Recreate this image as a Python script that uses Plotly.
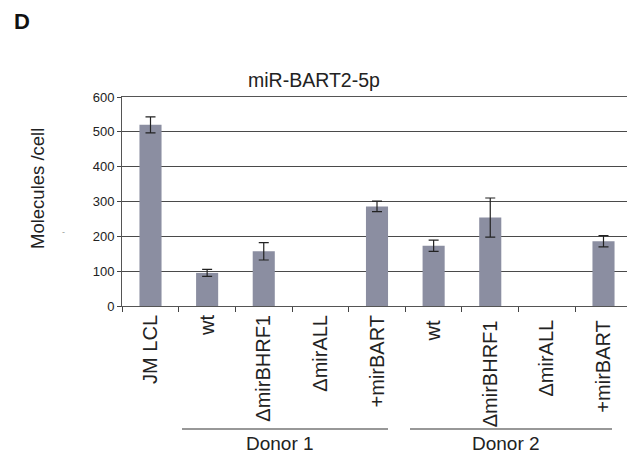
import plotly.graph_objects as go

categories = ["JM LCL", "wt", "\u0394mirBHRF1", "\u0394mirALL", "+mirBART",
              "wt ", "\u0394mirBHRF1 ", "\u0394mirALL ", "+mirBART "]
values = [520, 95, 157, 0, 286, 173, 254, 0, 186]
errors = [23, 10, 25, 0, 15, 16, 56, 0, 16]
y_ticks = [0, 100, 200, 300, 400, 500, 600]
groups = ["Donor 1", "Donor 2"]

# page has an 8px body margin; lay out in screen pixels and compensate
OFF = 8
SW, SH = 635, 457
W, H = SW - OFF, SH - OFF
L_S, R_S, T_S, B_S = 122, 632, 97, 306  # plot box in screen pixels
l, r, t, b = L_S - OFF, SW - R_S, T_S - OFF, SH - B_S
pw, ph = W - l - r, H - t - b


def px(x):
    return (x - OFF - l) / pw


def py(y):
    return (H - b - (y - OFF)) / ph


fig = go.Figure()
fig.add_trace(go.Bar(
    x=categories, y=values,
    marker=dict(color="#8b8ea1", line=dict(width=0)),
    width=0.39,
))
# error bars only where there is a measurable value
keep = [i for i, e in enumerate(errors) if e > 0]
fig.add_trace(go.Scatter(
    x=[categories[i] for i in keep], y=[values[i] for i in keep],
    mode="markers", marker=dict(size=0.1, color="rgba(0,0,0,0)"),
    error_y=dict(type="data", array=[errors[i] for i in keep],
                 visible=True, color="#222222", thickness=1.2, width=5),
    hoverinfo="skip",
))

fig.update_layout(
    width=W, height=H,
    margin=dict(l=l, r=r, t=t, b=b, autoexpand=False),
    paper_bgcolor="white", plot_bgcolor="white",
    showlegend=False,
    font=dict(family="Liberation Sans, Arial", color="#222222"),
    xaxis=dict(
        type="category", categoryorder="array", categoryarray=categories,
        tickson="boundaries", ticks="outside", ticklen=5,
        tickcolor="#444", showline=True, linecolor="#555", linewidth=1,
        mirror=True, tickangle=-90, tickfont=dict(size=20, color="#222"),
        showgrid=False,
    ),
    yaxis=dict(
        range=[0, 600], tickvals=y_ticks, ticks="outside", ticklen=4,
        tickcolor="#444", showline=True, linecolor="#555", linewidth=1,
        mirror=True, showgrid=True, gridcolor="#4a4a4a", gridwidth=1,
        tickfont=dict(size=13, color="#222"),
        zeroline=False,
    ),
)


def note(text, x, y, size, color="#222", angle=0):
    fig.add_annotation(text=text, x=px(x), y=py(y), xref="paper", yref="paper",
                       xanchor="center", yanchor="middle", showarrow=False,
                       textangle=angle, font=dict(size=size, color=color))


note("miR-BART2-5p", 314, 80, 19.5)
note("<b>D</b>", 22, 21, 22, "#111")
note("Molecules /cell", 37, 189, 18.5, angle=-90)
note("-", 63, 232, 9, "#999")

spans = [(182, 388, 280), (410, 612, 506)]
for g, (x0, x1, xc) in zip(groups, spans):
    fig.add_shape(type="line", xref="paper", yref="paper",
                  x0=px(x0), x1=px(x1), y0=py(429), y1=py(429),
                  line=dict(color="#333", width=1.2))
    note(g, xc, 443, 19)

fig.write_html("out.html")
